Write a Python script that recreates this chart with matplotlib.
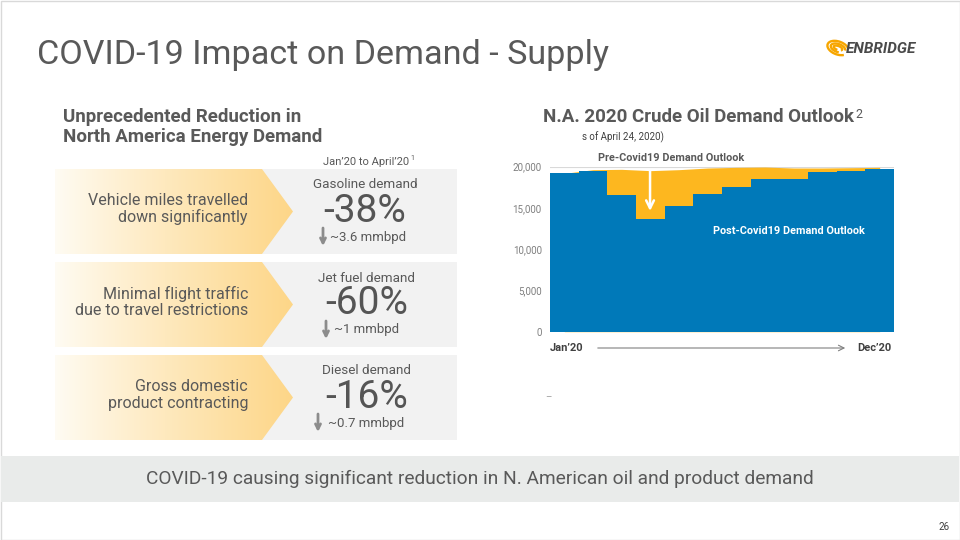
import numpy as np
import matplotlib
matplotlib.use("Agg")
import matplotlib.pyplot as plt
from matplotlib.patches import Rectangle, Polygon, Arc

# data (thousand bpd)
months = ["Jan", "Feb", "Mar", "Apr", "May", "Jun", "Jul", "Aug", "Sep", "Oct", "Nov", "Dec"]
post_covid = [19190, 19420, 16580, 13650, 15230, 16720, 17560, 18470, 18500, 19390, 19460, 19680]
pre_covid = [19190, 19640, 19680, 19520, 19640, 19840, 19920, 19960, 19840, 19840, 19880, 19920]
y_ticks = [0, 5000, 10000, 15000, 20000]

panel_left = ["Vehicle miles travelled\ndown significantly",
              "Minimal flight traffic\ndue to travel restrictions",
              "Gross domestic\nproduct contracting"]
panel_label = ["Gasoline demand", "Jet fuel demand", "Diesel demand"]
panel_pct = ["-38%", "-60%", "-16%"]
panel_vol = ["~3.6 mmbpd", "~1 mmbpd", "~0.7 mmbpd"]

BLUE = "#0079b9"
YELLOW = "#fdb71f"
GREY_TXT = "#595959"
FONT = ["Roboto", "DejaVu Sans"]

plt.rcParams["font.family"] = FONT

fig = plt.figure(figsize=(9.6, 5.4), dpi=100)
fig.patch.set_facecolor("white")

# page layer in pixel coordinates
bg = fig.add_axes([0, 0, 1, 1])
bg.set_xlim(0, 960)
bg.set_ylim(540, 0)
bg.axis("off")


def right_edge(t):
    # right end of a text in page pixels
    r = fig.canvas.get_renderer()
    bb = t.get_window_extent(renderer=r)
    return bb.x1


bg.add_patch(Rectangle((0.5, 0.5), 959, 539, fill=False, ec="#d9d9d9", lw=1))

bg.text(37, 55, "COVID-19 Impact on Demand - Supply", fontsize=24.6, color=GREY_TXT,
        va="center", ha="left")

# logo
for w, h, t1, t2 in [(22, 13, 30, 340), (15, 8, 60, 360), (9, 4, 90, 380)]:
    bg.add_patch(Arc((838, 48), w, h, angle=20, theta1=t1, theta2=t2, color="#f7a600", lw=1.7))
bg.text(846, 49, "ENBRIDGE", fontsize=11, fontweight="bold", style="italic", color="#4a4a4a",
        va="center", ha="left")

# left side
bg.text(63, 127, "Unprecedented Reduction in\nNorth America Energy Demand", fontsize=13.5,
        fontweight="bold", color=GREY_TXT, va="center", ha="left", linespacing=1.12)
bg.text(409, 162, "Jan\u201920 to April\u201920", fontsize=8, color=GREY_TXT,
        va="center", ha="right")
bg.text(410, 159, "1", fontsize=5, color=GREY_TXT, va="center", ha="left")

grad = np.linspace(0, 1, 256).reshape(1, -1)
c0 = np.array([255, 252, 244]) / 255
c1 = np.array([253, 214, 136]) / 255
grad_img = c0 + (c1 - c0) * grad[..., None] ** 0.9

arrow_x = [323, 326, 318]
vol_x = [330, 334, 328]
mid_x = [365, 367, 367]
for i, top in enumerate([169, 262, 355]):
    h = 85
    bg.add_patch(Rectangle((55, top), 402, h, color="#f2f2f2", lw=0))
    chev = Polygon([(55, top), (262, top), (293, top + h / 2), (262, top + h), (55, top + h)],
                   closed=True, fc="none", ec="none")
    bg.add_patch(chev)
    im = bg.imshow(grad_img, extent=[55, 293, top + h, top], aspect="auto", zorder=1)
    im.set_clip_path(chev)
    bg.text(248, top + 40, panel_left[i], fontsize=11.5, color=GREY_TXT, ha="right",
            va="center", linespacing=1.1, zorder=3)
    bg.text(mid_x[i], top + 16, panel_label[i], fontsize=9.7, color=GREY_TXT, ha="center",
            va="center", zorder=3)
    bg.text(mid_x[i], top + 42, panel_pct[i], fontsize=28, color="#555555",
            ha="center", va="center", zorder=3)
    bg.annotate("", xy=(arrow_x[i], top + 77), xytext=(arrow_x[i], top + 59),
                arrowprops=dict(arrowstyle="->", color="#8c8c8c", lw=2, mutation_scale=9,
                                shrinkA=0, shrinkB=0), zorder=3)
    bg.text(vol_x[i], top + 68, panel_vol[i], fontsize=9.5, color=GREY_TXT, ha="left",
            va="center", zorder=3)

# right side header
t = bg.text(543, 117, "N.A. 2020 Crude Oil Demand Outlook", fontsize=13.5, fontweight="bold",
            color=GREY_TXT, va="center", ha="left")
bg.text(right_edge(t) + 1, 114, "2", fontsize=9, color=GREY_TXT, va="center", ha="left")
bg.text(582, 137, "s of April 24, 2020)", fontsize=7, color="#404040", va="center", ha="left")

bg.text(548, 397, "\u2013", fontsize=7, color="#a0a0a0", va="center", ha="center")

# bottom banner
bg.add_patch(Rectangle((1, 456), 958, 46, color="#e9ebea", lw=0))
bg.text(480, 479, "COVID-19 causing significant reduction in N. American oil and product demand",
        fontsize=13.8, color=GREY_TXT, va="center", ha="center")
bg.text(950, 527, "26", fontsize=7, color="#404040", va="center", ha="right")

# x axis annotation below chart
bg.text(567, 348, "Jan\u201920", fontsize=8, fontweight="bold", color="#404040", va="center", ha="center")
bg.text(891, 348, "Dec\u201920", fontsize=8, fontweight="bold", color="#404040", va="center", ha="right")
bg.annotate("", xy=(848, 348), xytext=(595, 348),
            arrowprops=dict(arrowstyle="->", color="#808080", lw=0.8, mutation_scale=10))

# chart
ax = fig.add_axes([550 / 960, 1 - 331.7 / 540, 344 / 960, 165 / 540])
ax.set_facecolor("none")
edges = np.arange(len(months) + 1)
mids = edges[:-1] + 0.5
ax.fill_between(mids, pre_covid, 0, color=YELLOW, lw=0, zorder=2)
ax.stairs(post_covid, edges, fill=True, color=BLUE, lw=0, zorder=3)
ax.set_xlim(0, 12)
ax.set_ylim(0, 20000)
ax.set_yticks(y_ticks)
ax.set_yticklabels([f"{v:,}" for v in y_ticks])
ax.set_xticks([])
ax.tick_params(axis="y", length=0, pad=6, labelsize=7, labelcolor="#7f7f7f")
ax.yaxis.grid(True, color="#d9d9d9", lw=0.8, zorder=0)
ax.set_axisbelow(True)
for s in ax.spines.values():
    s.set_visible(False)

ax.annotate("", xy=(3.49, 14300), xytext=(3.49, 19900),
            arrowprops=dict(arrowstyle="->", color="white", lw=1.8, mutation_scale=14), zorder=5)
ax.text(4.22, 21050, "Pre-Covid19 Demand Outlook", fontsize=7.8, fontweight="bold",
        color=GREY_TXT, ha="center", va="center", clip_on=False)
ax.text(8.34, 12150, "Post-Covid19 Demand Outlook", fontsize=7.8, fontweight="bold",
        color="white", ha="center", va="center", zorder=6)

fig.savefig("out.png", dpi=100, facecolor="white")
